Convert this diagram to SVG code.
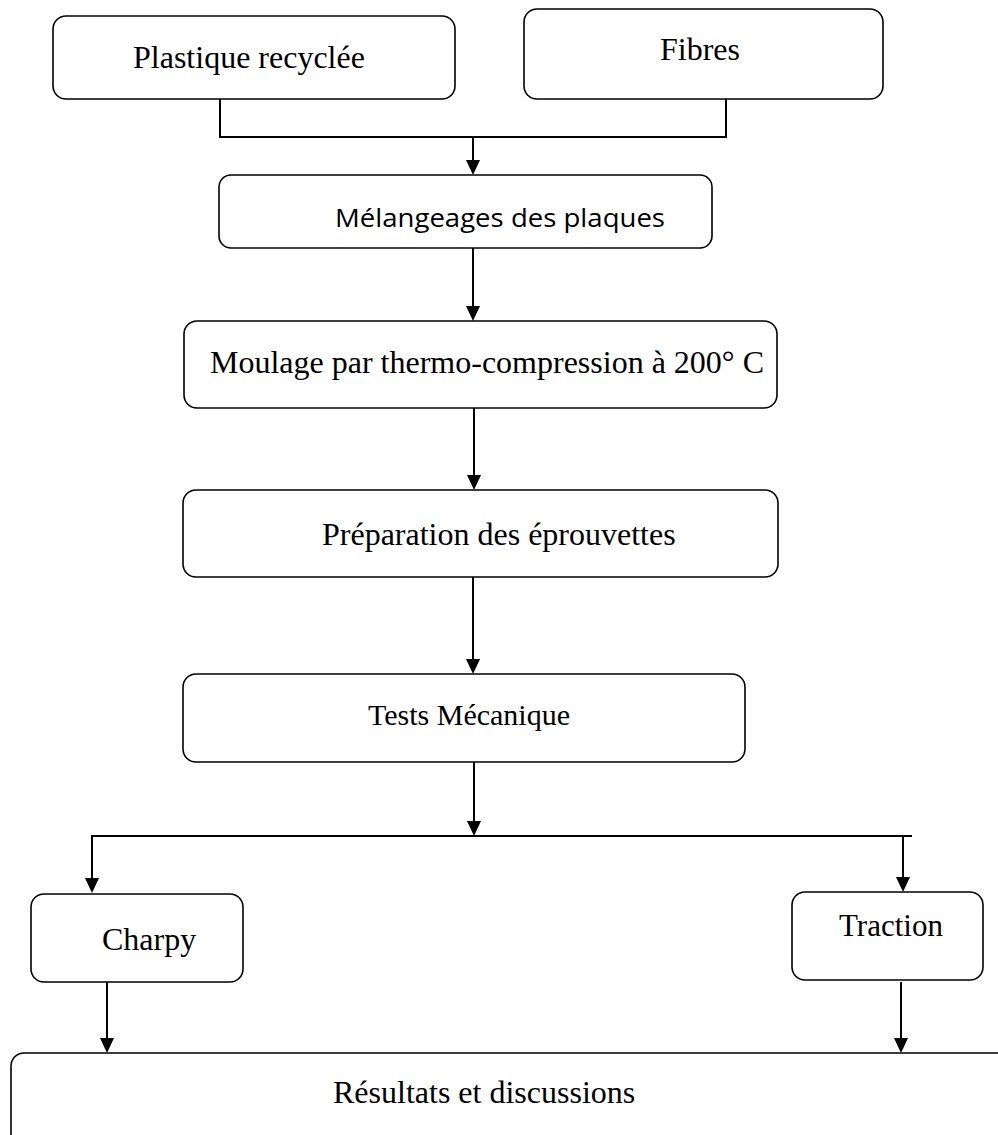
<svg xmlns="http://www.w3.org/2000/svg" width="998" height="1135" viewBox="0 0 998 1135">
<defs>
<style>
.box{fill:#fff;stroke:#000;stroke-width:1.6}
.t{font-family:"Liberation Serif","Times New Roman",serif;font-size:32px;fill:#000}
.s{font-family:"Open Sans","Liberation Sans",sans-serif;font-size:26px;fill:#000}
.c{fill:none;stroke:#000;stroke-width:2}
</style>
</defs>
<rect width="998" height="1135" fill="#fff"/>
<g id="connectors">
<path class="c" d="M220,99 V137 H726 V99"/>
<line class="c" x1="473" y1="137" x2="473" y2="162"/>
<path d="M466,160 L480,160 L473,175 Z"/>
<line class="c" x1="473" y1="248" x2="473" y2="308"/>
<path d="M466,306 L480,306 L473,321 Z"/>
<line class="c" x1="474" y1="400" x2="474" y2="477"/>
<path d="M467,475 L481,475 L474,490 Z"/>
<line class="c" x1="473" y1="577" x2="473" y2="661"/>
<path d="M466,659 L480,659 L473,674 Z"/>
<line class="c" x1="474" y1="762" x2="474" y2="823"/>
<path d="M467,821 L481,821 L474,836 Z"/>
<line class="c" x1="92" y1="836" x2="912" y2="836"/>
<line class="c" x1="92" y1="835" x2="92" y2="880"/>
<path d="M85,878 L99,878 L92,893 Z"/>
<line class="c" x1="903" y1="835" x2="903" y2="879"/>
<path d="M896,877 L910,877 L903,892 Z"/>
<line class="c" x1="107" y1="982" x2="107" y2="1040"/>
<path d="M100,1038 L114,1038 L107,1053 Z"/>
<line class="c" x1="901" y1="982" x2="901" y2="1040"/>
<path d="M894,1038 L908,1038 L901,1053 Z"/>
</g>
<g id="n1"><rect class="box" x="53" y="16" width="402" height="83" rx="13"/><text class="t" x="133" y="68">Plastique recyclée</text></g>
<g id="n2"><rect class="box" x="524" y="9" width="359" height="90" rx="13"/><text class="t" x="660" y="60">Fibres</text></g>
<g id="n3"><rect class="box" x="219" y="175" width="493" height="73" rx="12"/><text class="s" x="335" y="227" textLength="330" lengthAdjust="spacingAndGlyphs">Mélangeages des plaques</text></g>
<g id="n4"><rect class="box" x="184" y="321" width="593" height="87" rx="13"/><text class="t" x="210" y="373">Moulage par thermo-compression à 200° C</text></g>
<g id="n5"><rect class="box" x="183" y="490" width="595" height="87" rx="13"/><text class="t" x="322" y="545">Préparation des éprouvettes</text></g>
<g id="n6"><rect class="box" x="183" y="674" width="562" height="88" rx="13"/><text class="t" x="368" y="725" style="font-size:30px">Tests Mécanique</text></g>
<g id="n7"><rect class="box" x="31" y="894" width="212" height="88" rx="13"/><text class="t" x="102" y="950">Charpy</text></g>
<g id="n8"><rect class="box" x="792" y="892" width="191" height="88" rx="13"/><text class="t" x="839" y="936" style="font-size:31px">Traction</text></g>
<g id="n9"><rect class="box" x="11" y="1053" width="1000" height="110" rx="13"/><text class="t" x="333" y="1103">Résultats et discussions</text></g>
</svg>
